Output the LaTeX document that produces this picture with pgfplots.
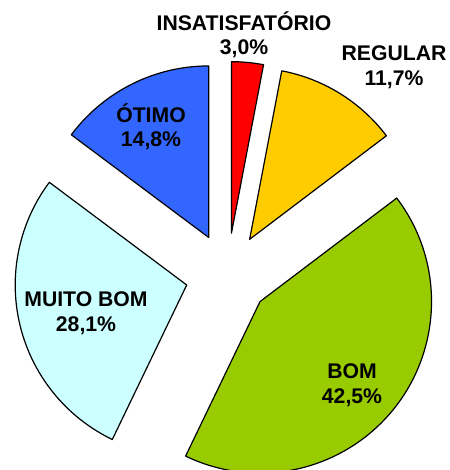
\documentclass[border=0pt]{standalone}
\usepackage{pgfplots}
\pgfplotsset{compat=1.18}
\usepackage{pgfplotstable}
\usetikzlibrary{calc}
\usepackage{fontspec}
\setmainfont{Liberation Sans}
\definecolor{cRed}{HTML}{FF0000}
\definecolor{cYel}{HTML}{FFCC00}
\definecolor{cGrn}{HTML}{99CC00}
\definecolor{cCya}{HTML}{CCFFFF}
\definecolor{cBlu}{HTML}{3366FF}
\pgfplotstableread{
label value
INSATISFATORIO 3.0
REGULAR 11.7
BOM 42.5
MUITOBOM 28.1
OTIMO 14.8
}\piedata
\begin{document}
\begin{tikzpicture}
% cumulative angles from the table values (clockwise from 90 deg)
\pgfmathsetmacro{\tot}{0}
\foreach \i in {0,...,4}{\pgfplotstablegetelem{\i}{value}\of\piedata
  \pgfmathsetmacro{\tmpt}{\tot+\pgfplotsretval}\global\let\tot\tmpt}
\pgfmathsetmacro{\cum}{0}
\foreach \i/\nm in {0/A,1/B,2/C,3/D,4/E}{\pgfplotstablegetelem{\i}{value}\of\piedata
  \pgfmathsetmacro{\tmps}{90-360*(\cum/\tot)}
  \pgfmathsetmacro{\tmpc}{\cum+\pgfplotsretval}
  \pgfmathsetmacro{\tmpe}{90-360*(\tmpc/\tot)}
  \pgfmathsetmacro{\tmpm}{(\tmps+\tmpe)/2}
  \expandafter\xdef\csname s\nm\endcsname{\tmps}
  \expandafter\xdef\csname e\nm\endcsname{\tmpe}
  \expandafter\xdef\csname m\nm\endcsname{\tmpm}
  \global\let\cum\tmpc}
\begin{axis}[width=450bp,height=470bp,scale only axis,
  xmin=0,xmax=450,ymin=0,ymax=470,hide axis,clip=true]
\def\wedge#1#2{%
  \filldraw[fill=#2,draw=black,line width=1.2bp,line join=round]
   ($(axis cs:227.5,195)+(\csname m#1\endcsname:42bp)$) -- ++(\csname s#1\endcsname:171.5bp)
   arc[start angle=\csname s#1\endcsname,end angle=\csname e#1\endcsname,radius=171.5bp] -- cycle;}
\wedge{A}{cRed}
\wedge{B}{cYel}
\wedge{C}{cGrn}
\wedge{D}{cCya}
\wedge{E}{cBlu}
\tikzset{lbl/.style={align=center,font=\fontsize{21.2bp}{24.5bp}\selectfont\bfseries,inner sep=0pt}}
\node[lbl] at (axis cs:244,435) {INSATISFATÓRIO\\3,0\%};
\node[lbl] at (axis cs:394,403) {REGULAR\\11,7\%};
\node[lbl] at (axis cs:151,343) {ÓTIMO\\14,8\%};
\node[lbl] at (axis cs:86,157) {MUITO BOM\\28,1\%};
\node[lbl] at (axis cs:352,85) {BOM\\42,5\%};
\end{axis}
\pgfresetboundingbox
\useasboundingbox (current axis.south west) rectangle (current axis.north east);
\end{tikzpicture}
\end{document}
